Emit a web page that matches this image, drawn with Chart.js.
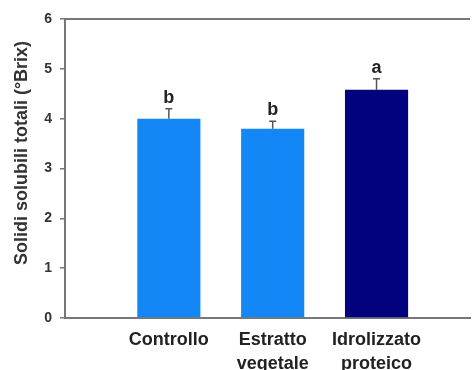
<!DOCTYPE html>
<html>
<head>
<meta charset="utf-8">
<script src="https://cdn.jsdelivr.net/npm/chart.js@4"></script>
<style>
html,body{margin:0;padding:0;background:#fff;}
#wrap{width:475px;height:370px;position:relative;}
</style>
</head>
<body>
<div id="wrap"><canvas id="c" width="475" height="370"></canvas></div>
<script>
const categories = [["Controllo"], ["Estratto", "vegetale"], ["Idrolizzato", "proteico"]];
const values = [4.0, 3.8, 4.58];
const errors = [0.2, 0.15, 0.22];
const letters = ["b", "b", "a"];
const barColors = ["#1487f7", "#1487f7", "#02027e"];
const yTitle = "Solidi solubili totali (°Brix)";

const extras = {
  id: "extras",
  afterDatasetsDraw(chart) {
    const ctx = chart.ctx, xs = chart.scales.x, ys = chart.scales.y, ca = chart.chartArea;
    ctx.save();
    ctx.strokeStyle = "#777";
    ctx.lineWidth = 2;
    ctx.beginPath();
    ctx.moveTo(ca.left - 1, ca.top);
    ctx.lineTo(ca.right, ca.top);
    ctx.stroke();
    values.forEach((v, i) => {
      const x = xs.getPixelForValue(i + 1);
      const yb = ys.getPixelForValue(v);
      const yt = ys.getPixelForValue(v + errors[i]);
      ctx.strokeStyle = "#555";
      ctx.lineWidth = 1.5;
      ctx.beginPath();
      ctx.moveTo(x, yb);
      ctx.lineTo(x, yt);
      ctx.moveTo(x - 3.5, yt);
      ctx.lineTo(x + 3.5, yt);
      ctx.stroke();
      ctx.fillStyle = "#222";
      ctx.font = "bold 18px 'Liberation Sans', Arial, sans-serif";
      ctx.textAlign = "center";
      ctx.textBaseline = "alphabetic";
      ctx.fillText(letters[i], x, yt - 6);
    });
    ctx.translate(22, 153);
    ctx.rotate(-Math.PI / 2);
    ctx.fillStyle = "#333";
    ctx.font = "bold 18px 'Liberation Sans', Arial, sans-serif";
    ctx.textAlign = "center";
    ctx.textBaseline = "middle";
    ctx.fillText(yTitle, 0, 0);
    ctx.restore();
  }
};

new Chart(document.getElementById("c"), {
  type: "bar",
  data: {
    datasets: [{
      data: values.map((v, i) => ({ x: i + 1, y: v })),
      backgroundColor: barColors,
      borderWidth: 0,
      barPercentage: 0.76,
      categoryPercentage: 0.8
    }]
  },
  options: {
    responsive: false,
    animation: false,
    devicePixelRatio: 1,
    layout: { padding: { left: 0, right: 5, top: 19, bottom: 0 } },
    plugins: { legend: { display: false }, tooltip: { enabled: false } },
    scales: {
      x: {
        type: "linear",
        offset: false,
        min: 0,
        max: 3.9,
        afterFit(s) { s.height = 52; },
        grid: { display: false, drawTicks: false, offset: false },
        border: { display: true, color: "#777", width: 2 },
        ticks: {
          stepSize: 1,
          includeBounds: false,
          autoSkip: false,
          maxRotation: 0,
          padding: 10,
          color: "#222",
          font: { family: "'Liberation Sans', Arial, sans-serif", size: 18, weight: "bold", lineHeight: 1.33 },
          callback(v) {
            const i = Math.round(v) - 1;
            return (Math.abs(v - Math.round(v)) < 1e-6 && categories[i]) ? categories[i] : "";
          }
        }
      },
      y: {
        min: 0,
        max: 6,
        afterFit(s) { s.width = 65; },
        grid: { drawOnChartArea: false, drawTicks: true, tickLength: 5, color: "#777", lineWidth: 1.5 },
        border: { display: true, color: "#777", width: 2 },
        ticks: {
          stepSize: 1,
          padding: 8,
          color: "#333",
          font: { family: "'Liberation Sans', Arial, sans-serif", size: 14, weight: "bold" }
        }
      }
    }
  },
  plugins: [extras]
});
</script>
</body>
</html>
